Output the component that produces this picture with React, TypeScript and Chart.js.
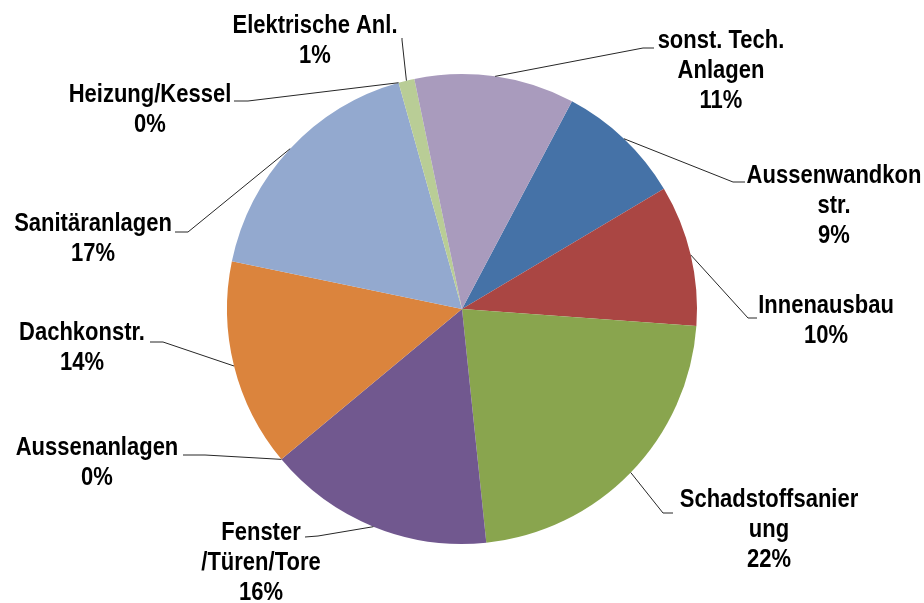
import React, { useEffect, useRef } from "react";
import { Chart, registerables } from "chart.js";

Chart.register(...registerables);

const categories = [
  "Aussenwandkonstr.",
  "Innenausbau",
  "Schadstoffsanierung",
  "Fenster/Türen/Tore",
  "Aussenanlagen",
  "Dachkonstr.",
  "Sanitäranlagen",
  "Heizung/Kessel",
  "Elektrische Anl.",
  "sonst. Tech. Anlagen",
];

const shares = [8.7, 9.7, 22.2, 15.6, 0, 14.3, 17.4, 0, 1.1, 11.0];

const labelLines = [
  ["Aussenwandkon", "str."],
  ["Innenausbau"],
  ["Schadstoffsanier", "ung"],
  ["Fenster", "/Türen/Tore"],
  ["Aussenanlagen"],
  ["Dachkonstr."],
  ["Sanitäranlagen"],
  ["Heizung/Kessel"],
  ["Elektrische Anl."],
  ["sonst. Tech.", "Anlagen"],
];

const colors = [
  "#4572A7",
  "#AA4643",
  "#89A54E",
  "#71588F",
  "#4198AF",
  "#DB843D",
  "#93A9CF",
  "#D19392",
  "#B9CD96",
  "#A99BBD",
];

// label layout: text centre x, first line y, leader elbow, leader end
const labelLayout = [
  { x: 834, y: 176, elbow: [733, 182], end: [745, 182] },
  { x: 826, y: 306, elbow: [748, 318], end: [757, 318] },
  { x: 769, y: 500, elbow: [663, 513], end: [673, 513] },
  { x: 261, y: 533, elbow: [318, 536], end: [305, 537] },
  { x: 97, y: 448, elbow: [205, 455], end: [183, 455] },
  { x: 82, y: 333, elbow: [163, 342], end: [150, 342] },
  { x: 93, y: 224, elbow: [188, 232], end: [175, 232] },
  { x: 150, y: 95, elbow: [248, 101], end: [234, 101] },
  { x: 315, y: 26, elbow: [402, 40], end: [402, 38] },
  { x: 721, y: 41, elbow: [643, 48], end: [654, 48] },
];

const LINE_GAP = 30;

const labelPlugin = {
  id: "excelLabels",
  afterDraw(chart: any) {
    const ctx = chart.ctx as CanvasRenderingContext2D;
    const meta = chart.getDatasetMeta(0);
    const data = chart.data.datasets[0].data as number[];
    const total = data.reduce((a, b) => a + b, 0);
    ctx.save();
    meta.data.forEach((arc: any, i: number) => {
      const p = arc.getProps(["x", "y", "startAngle", "endAngle", "outerRadius"], true);
      const mid = (p.startAngle + p.endAngle) / 2;
      const sx = p.x + Math.cos(mid) * p.outerRadius;
      const sy = p.y + Math.sin(mid) * p.outerRadius;
      const lay = labelLayout[i];
      ctx.beginPath();
      ctx.strokeStyle = "#262626";
      ctx.lineWidth = 1;
      ctx.moveTo(sx, sy);
      ctx.lineTo(lay.elbow[0], lay.elbow[1]);
      ctx.lineTo(lay.end[0], lay.end[1]);
      ctx.stroke();

      const lines = [...labelLines[i], Math.round((data[i] / total) * 100) + "%"];
      ctx.fillStyle = "#000";
      ctx.font = "bold 22px 'Liberation Sans', Arial, sans-serif";
      ctx.textAlign = "center";
      ctx.textBaseline = "middle";
      lines.forEach((t, k) => {
        ctx.save();
        ctx.translate(lay.x, lay.y + k * LINE_GAP);
        ctx.scale(1, 1.13);
        ctx.fillText(t, 0, 0);
        ctx.restore();
      });
    });
    ctx.restore();
  },
};

export default function App() {
  const ref = useRef<HTMLCanvasElement | null>(null);
  useEffect(() => {
    if (!ref.current) return;
    const chart = new Chart(ref.current, {
      type: "pie",
      data: {
        labels: categories,
        datasets: [
          {
            data: shares,
            backgroundColor: colors,
            borderWidth: 0,
          },
        ],
      },
      options: {
        animation: false,
        responsive: true,
        maintainAspectRatio: false,
        rotation: 27.9,
        layout: { padding: { top: 74, bottom: 59, left: 227, right: 227 } },
        plugins: {
          legend: { display: false },
          tooltip: { enabled: false },
        },
      },
      plugins: [labelPlugin],
    });
    return () => chart.destroy();
  }, []);
  return (
    <div style={{ position: "fixed", left: 0, top: 0, width: 924, height: 603, background: "#fff" }}>
      <canvas ref={ref} />
    </div>
  );
}
